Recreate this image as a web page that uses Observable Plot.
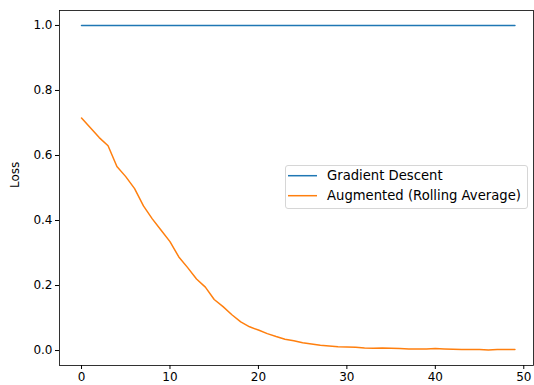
<!DOCTYPE html>
<html>
<head>
<meta charset="utf-8">
<script src="https://cdn.jsdelivr.net/npm/d3@7"></script>
<script src="https://cdn.jsdelivr.net/npm/@observablehq/plot@0.6"></script>
<style>
body { margin: 0; background: #fff; }
#wrap { position: relative; width: 534px; height: 385px; font-family: "DejaVu Sans", sans-serif; overflow: hidden; }
#legend { position: absolute; left: 285px; top: 165px; width: 243px; height: 44px; border: 1px solid #d6d6d6; border-radius: 3px; background: rgba(255,255,255,0.8); font-size: 13.2px; color: #000; box-sizing: border-box; }
#legend svg.swatches { position: absolute; left: 0; top: 0; }
.lbl { position: absolute; left: 41px; line-height: 16px; height: 16px; white-space: nowrap; }
</style>
</head>
<body>
<div id="wrap"></div>
<script>
const epochs = d3.range(0, 50);
const gradientDescent = epochs.map(() => 1.0);
const augmented = [
  0.715, 0.685, 0.655, 0.630, 0.566, 0.535, 0.498, 0.445, 0.405, 0.370,
  0.335, 0.288, 0.255, 0.220, 0.195, 0.157, 0.135, 0.110, 0.088, 0.073,
  0.063, 0.052, 0.043, 0.035, 0.030, 0.024, 0.020, 0.016, 0.014, 0.012,
  0.011, 0.010, 0.008, 0.007, 0.008, 0.007, 0.006, 0.005, 0.005, 0.005,
  0.006, 0.005, 0.004, 0.003, 0.003, 0.003, 0.002, 0.003, 0.003, 0.003
];
const seriesNames = ["Gradient Descent", "Augmented (Rolling Average)"];
const seriesColors = ["#1f77b4", "#ff7f0e"];
const xTicks = [0, 10, 20, 30, 40, 50];
const yTicks = [0, 0.2, 0.4, 0.6, 0.8, 1.0];

const gdData = epochs.map((e, i) => ({x: e, y: gradientDescent[i]}));
const augData = epochs.map((e, i) => ({x: e, y: augmented[i]}));

const chart = Plot.plot({
  width: 534,
  height: 385,
  marginLeft: 59,
  marginRight: 1,
  marginTop: 10,
  marginBottom: 20,
  style: {fontFamily: "DejaVu Sans, sans-serif", fontSize: "12px", color: "#000", background: "#fff"},
  x: {domain: [-2.49, 51.1], label: null},
  y: {domain: [-0.046, 1.046], label: null},
  marks: [
    Plot.frame({stroke: "#000", strokeWidth: 0.8}),
    Plot.axisX({ticks: xTicks, tickSize: 4, tickPadding: 3, tickFormat: d => String(d), label: null, fontSize: 12}),
    Plot.axisY({ticks: yTicks, tickSize: 4, tickPadding: 3, tickFormat: d => d.toFixed(1), label: null, fontSize: 12}),
    Plot.line(gdData, {x: "x", y: "y", stroke: seriesColors[0], strokeWidth: 1.5}),
    Plot.line(augData, {x: "x", y: "y", stroke: seriesColors[1], strokeWidth: 1.5}),
    Plot.text(["Loss"], {frameAnchor: "left", dx: -44, rotate: -90, fontSize: 12, fill: "#000"})
  ]
});
const wrap = document.getElementById("wrap");
wrap.appendChild(chart);

const legend = d3.select(wrap).append("div").attr("id", "legend");
const centers = [9.7, 29.7];
const sv = legend.append("svg").attr("class", "swatches").attr("width", 40).attr("height", 42);
seriesNames.forEach((name, i) => {
  sv.append("line")
    .attr("x1", 2).attr("x2", 31)
    .attr("y1", centers[i]).attr("y2", centers[i])
    .attr("stroke", seriesColors[i]).attr("stroke-width", 1.5);
  legend.append("div").attr("class", "lbl")
    .style("top", (centers[i] - 8) + "px")
    .text(name);
});
</script>
</body>
</html>
